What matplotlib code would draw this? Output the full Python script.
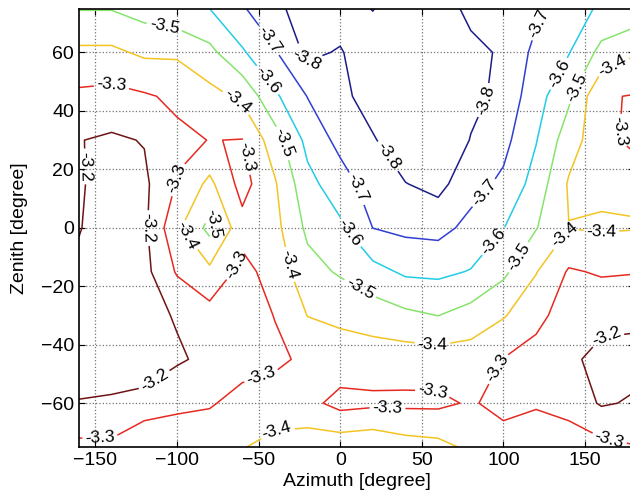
import numpy as np
import matplotlib
matplotlib.use('Agg')
import matplotlib.pyplot as plt

# grid of the map (degrees)
azimuth = [-160, -140, -120, -100, -80, -60, -40, -20, 0, 20, 40, 60, 80, 100, 120, 140, 160, 180]
zenith = [-75, -60, -45, -30, -15, 0, 15, 30, 45, 60, 75]

# values, one row per zenith (bottom to top)
z_m75 = [-3.325, -3.3225, -3.39, -3.39, -3.37, -3.395, -3.43, -3.455, -3.466, -3.48, -3.444, -3.43, -3.38, -3.345, -3.33, -3.36, -3.33, -3.305]
z_m60 = [-3.203, -3.21, -3.24, -3.27, -3.29, -3.335, -3.35, -3.33, -3.267, -3.28, -3.28, -3.28, -3.31, -3.27, -3.295, -3.26, -3.19, -3.21]
z_m45 = [-3.17, -3.16, -3.13, -3.188, -3.222, -3.26, -3.28, -3.32, -3.36, -3.35, -3.347, -3.352, -3.35, -3.297, -3.26, -3.22, -3.17, -3.17]
z_m30 = [-3.16, -3.15, -3.17, -3.2075, -3.262, -3.25, -3.303, -3.402, -3.417, -3.446, -3.479, -3.501, -3.461, -3.408, -3.33, -3.25, -3.23, -3.22]
z_m15 = [-3.18, -3.15, -3.17, -3.31, -3.377, -3.269, -3.34, -3.464, -3.512, -3.567, -3.616, -3.621, -3.595, -3.521, -3.405, -3.29, -3.31, -3.305]
z_0 = [-3.205, -3.15, -3.18, -3.379, -3.53, -3.335, -3.37, -3.521, -3.582, -3.701, -3.723, -3.732, -3.672, -3.603, -3.505, -3.402, -3.41, -3.405]
z_15 = [-3.21, -3.16, -3.18, -3.307, -3.425, -3.263, -3.39, -3.57, -3.655, -3.747, -3.797, -3.83, -3.736, -3.68, -3.56, -3.39, -3.383, -3.385]
z_30 = [-3.203, -3.185, -3.205, -3.28, -3.302, -3.297, -3.454, -3.629, -3.73, -3.79, -3.87, -3.90, -3.795, -3.73, -3.605, -3.445, -3.338, -3.269]
z_45 = [-3.28, -3.27, -3.289, -3.318, -3.368, -3.42, -3.582, -3.703, -3.77, -3.85, -3.93, -3.95, -3.83, -3.77, -3.64, -3.519, -3.309, -3.295]
z_60 = [-3.38, -3.38, -3.417, -3.416, -3.473, -3.5875, -3.69, -3.824, -3.79, -3.88, -3.93, -3.95, -3.84, -3.78, -3.675, -3.605, -3.471, -3.41]
z_75 = [-3.505, -3.505, -3.54, -3.57, -3.60, -3.69, -3.77, -3.86, -3.86, -3.795, -3.90, -3.88, -3.76, -3.74, -3.72, -3.66, -3.58, -3.57]

niveis = [-3.8, -3.7, -3.6, -3.5, -3.4, -3.3, -3.2]
cores = ['#1c1c88', '#2f3fd0', '#22cce6', '#86e46c', '#f2c424', '#e62a22', '#6e1414']

# where the labels sit
pos_labels = [(-108, 68), (-140, 50), (-156, 21), (-44, 64), (-25, 56), (-48, 49),
              (-64, 42), (-35, 29), (-59, 24), (-103, 17), (-80, 1), (-95, -3),
              (-116, 0), (-66, -12), (8, 13), (28, 24), (5, -2), (12, -21),
              (-35, -13), (87, 44), (121, 70), (88, 12), (133, 53), (145, 48),
              (168, 54), (168, 33), (97, -6), (109, -10), (136, -2), (160, -2),
              (57, -38), (96, -48), (57, -53), (29, -61), (163, -37), (165, -72),
              (-47, -53), (-114, -52), (-39, -68), (-147, -73)]

mapa = np.array([z_m75, z_m60, z_m45, z_m30, z_m15, z_0, z_15, z_30, z_45, z_60, z_75])

plt.rcParams['font.family'] = ['Liberation Sans', 'DejaVu Sans']

fig = plt.figure(figsize=(6.3, 5.03), dpi=100)
ax = fig.add_axes([0.1254, 0.1113, 0.881, 0.8716])

cs = ax.contour(azimuth, zenith, mapa, levels=niveis, colors=cores, linewidths=1.1)
ax.clabel(cs, inline=True, fontsize=12.5, fmt='%.1f', colors='k', manual=pos_labels, inline_spacing=3)

ax.set_xlim(-160, 180)
ax.set_ylim(-75, 75)
ax.set_xticks([-150, -100, -50, 0, 50, 100, 150])
ax.set_yticks([-60, -40, -20, 0, 20, 40, 60])
ax.grid(True, linestyle=':', color='0.45', linewidth=0.9)
ax.tick_params(direction='in', top=True, right=True, labelsize=14, length=4)
for s in ax.spines.values():
    s.set_linewidth(1.2)

ax.set_xlabel('Azimuth [degree]', fontsize=14, labelpad=3)
ax.set_ylabel('Zenith [degree]', fontsize=14, labelpad=9)

fig.savefig('out.png', dpi=100)
